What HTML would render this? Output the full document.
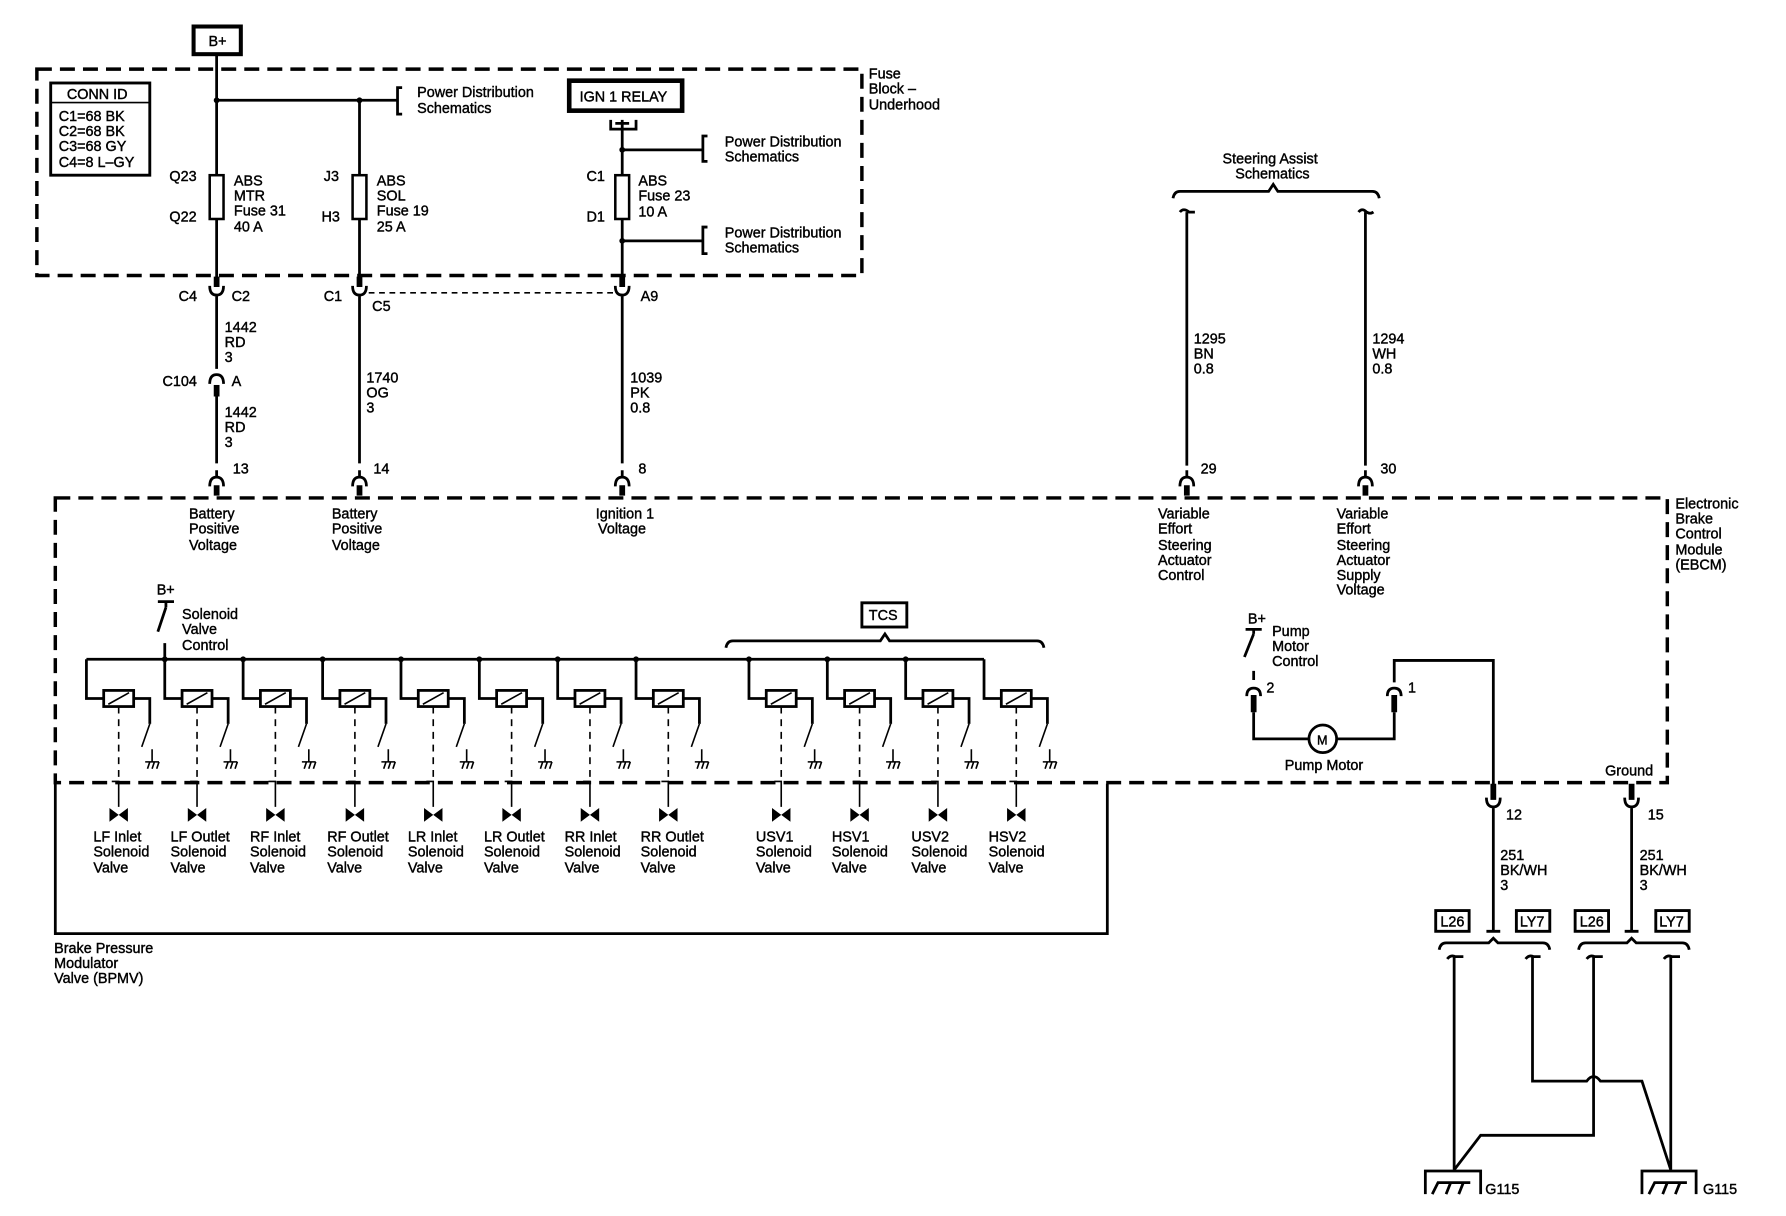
<!DOCTYPE html>
<html><head><meta charset="utf-8"><style>
html,body{margin:0;padding:0;background:#fff}
svg{display:block}
text{font-family:"Liberation Sans",sans-serif;font-size:12.5px;fill:#000;stroke:#000;stroke-width:0.35px;letter-spacing:0px}
.w{stroke:#000;stroke-width:2.4;fill:none}
.t{stroke:#000;stroke-width:1.4;fill:none}
.d{stroke:#000;stroke-width:3;fill:none;stroke-dasharray:13 7}
.b{stroke:#000;stroke-width:5;fill:none}
</style></head><body>
<svg width="1786" height="1216" viewBox="0 0 1550 1055" preserveAspectRatio="none" xmlns="http://www.w3.org/2000/svg">
<defs>
<g id="sol">
<path class="w" d="M0,0V34H15M41,34H55V56"/>
<rect x="15" y="27" width="26" height="14" fill="#fff" stroke="#000" stroke-width="2.4"/>
<path class="t" d="M19,39L37,29"/>
<path class="t" stroke-width="2" d="M55,56L48,76"/>
<path class="t" stroke-width="2" d="M57,78V89M51,89H63M53,95L55,89M57,95L59,89M61,95L63,89"/>
<path class="t" stroke-width="2" stroke-dasharray="6 5" d="M28,41V104"/>
<path class="t" stroke-width="2" d="M22,106H28V128"/>
<path d="M20,129L28,135L20,141ZM36,129L28,135L36,141Z" fill="#000"/>
</g>
<g id="cupd"><path class="b" d="M0,-12V-3"/><path class="w" d="M-6,-4Q-6,4 0,4Q6,4 6,-4M0,4V10"/></g>
<g id="cupu"><path class="w" d="M0,-10V-4M-6,4Q-6,-4 0,-4Q6,-4 6,4"/><path class="b" d="M0,3V12"/></g>
</defs>

<rect x="168" y="23" width="41" height="24" fill="none" stroke="#000" stroke-width="3.5"/>
<text x="181" y="40">B+</text>

<rect class="d" x="32" y="60" width="716" height="179"/>
<text x="754" y="68">Fuse</text><text x="754" y="81">Block –</text><text x="754" y="95">Underhood</text>
<rect x="44" y="72" width="86" height="80" fill="none" stroke="#000" stroke-width="2.5"/>
<path class="t" stroke-width="2" d="M44,89H130"/>
<text x="58" y="86">CONN ID</text>
<text x="51" y="105">C1=68 BK</text><text x="51" y="118">C2=68 BK</text><text x="51" y="131">C3=68 GY</text><text x="51" y="145">C4=8 L–GY</text>

<path class="w" d="M188,48V242M312,87V242M188,87H345"/>
<circle cx="188" cy="87" r="2.5"/><circle cx="312" cy="87" r="2.5"/>
<path class="w" d="M349,76H345V99H349"/>
<text x="362" y="84">Power Distribution</text><text x="362" y="98">Schematics</text>
<rect x="182" y="152" width="12" height="38" fill="#fff" stroke="#000" stroke-width="2.2"/>
<text x="147" y="157">Q23</text><text x="147" y="192">Q22</text>
<text x="203" y="161">ABS</text><text x="203" y="174">MTR</text><text x="203" y="187">Fuse 31</text><text x="203" y="201">40 A</text>
<rect x="306" y="152" width="12" height="38" fill="#fff" stroke="#000" stroke-width="2.2"/>
<text x="281" y="157">J3</text><text x="279" y="192">H3</text>
<text x="327" y="161">ABS</text><text x="327" y="174">SOL</text><text x="327" y="187">Fuse 19</text><text x="327" y="201">25 A</text>

<rect x="494" y="70" width="98" height="26" fill="none" stroke="#000" stroke-width="4"/>
<text x="503" y="88">IGN 1 RELAY</text>
<path class="w" d="M530,104V112H552V104M534,107H546"/>
<path class="w" d="M540,104V242M540,130H610M540,209H610"/>
<circle cx="540" cy="130" r="2.5"/><circle cx="540" cy="209" r="2.5"/>
<path class="w" d="M614,118H610V140H614M614,197H610V220H614"/>
<text x="629" y="127">Power Distribution</text><text x="629" y="140">Schematics</text>
<text x="629" y="206">Power Distribution</text><text x="629" y="219">Schematics</text>
<rect x="534" y="152" width="12" height="38" fill="#fff" stroke="#000" stroke-width="2.2"/>
<text x="509" y="157">C1</text><text x="509" y="192">D1</text>
<text x="554" y="161">ABS</text><text x="554" y="174">Fuse 23</text><text x="554" y="188">10 A</text>

<use href="#cupd" x="188" y="252"/><use href="#cupd" x="312" y="252"/><use href="#cupd" x="540" y="252"/>
<path class="t" stroke-width="2.5" stroke-dasharray="5 4" d="M320,254H533"/>
<text x="155" y="261">C4</text><text x="201" y="261">C2</text>
<text x="281" y="261">C1</text><text x="323" y="270">C5</text><text x="556" y="261">A9</text>
<path class="w" d="M188,262V320M188,338V402M312,262V402M540,262V402"/>
<path class="w" d="M182,333Q182,325 188,325Q194,325 194,333"/><path class="b" d="M188,334V344"/>
<text x="141" y="335">C104</text><text x="201" y="335">A</text>
<text x="195" y="288">1442</text><text x="195" y="301">RD</text><text x="195" y="314">3</text>
<text x="195" y="362">1442</text><text x="195" y="375">RD</text><text x="195" y="388">3</text>
<text x="318" y="332">1740</text><text x="318" y="345">OG</text><text x="318" y="358">3</text>
<text x="547" y="332">1039</text><text x="547" y="345">PK</text><text x="547" y="358">0.8</text>
<use href="#cupu" x="188" y="418"/><use href="#cupu" x="312" y="418"/><use href="#cupu" x="540" y="418"/>
<text x="202" y="411">13</text><text x="324" y="411">14</text><text x="554" y="411">8</text>

<text x="1061" y="142">Steering Assist</text><text x="1072" y="155">Schematics</text>
<path class="w" d="M1018,172Q1019,166 1024,166H1101L1105,160L1109,166H1191Q1196,166 1197,172"/>
<path class="w" d="M1030,184V404M1185,184V404M1024,184Q1027,180 1032,184H1037M1179,184Q1182,180 1186,184Q1189,186 1192,184"/>
<text x="1036" y="298">1295</text><text x="1036" y="311">BN</text><text x="1036" y="324">0.8</text>
<text x="1191" y="298">1294</text><text x="1191" y="311">WH</text><text x="1191" y="324">0.8</text>
<use href="#cupu" x="1030" y="418"/><use href="#cupu" x="1185" y="418"/>
<text x="1042" y="411">29</text><text x="1198" y="411">30</text>

<rect class="d" x="48" y="432" width="1399" height="247"/>
<text x="1454" y="441">Electronic</text><text x="1454" y="454">Brake</text><text x="1454" y="467">Control</text><text x="1454" y="481">Module</text><text x="1454" y="494">(EBCM)</text>
<text x="164" y="450">Battery</text><text x="164" y="463">Positive</text><text x="164" y="477">Voltage</text>
<text x="288" y="450">Battery</text><text x="288" y="463">Positive</text><text x="288" y="477">Voltage</text>
<text x="517" y="450">Ignition 1</text><text x="519" y="463">Voltage</text>
<text x="1005" y="450">Variable</text><text x="1005" y="463">Effort</text><text x="1005" y="477">Steering</text><text x="1005" y="490">Actuator</text><text x="1005" y="503">Control</text>
<text x="1160" y="450">Variable</text><text x="1160" y="463">Effort</text><text x="1160" y="477">Steering</text><text x="1160" y="490">Actuator</text><text x="1160" y="503">Supply</text><text x="1160" y="516">Voltage</text>

<text x="136" y="516">B+</text>
<path class="w" d="M137,522H151M144,522V527M144,527L137,548M143,558V572"/>
<text x="158" y="537">Solenoid</text><text x="158" y="550">Valve</text><text x="158" y="564">Control</text>
<path class="w" d="M75,572H854"/>
<g fill="#000"><circle cx="143" cy="572" r="2.5"/><circle cx="211" cy="572" r="2.5"/><circle cx="280" cy="572" r="2.5"/><circle cx="348" cy="572" r="2.5"/><circle cx="416" cy="572" r="2.5"/><circle cx="484" cy="572" r="2.5"/><circle cx="552" cy="572" r="2.5"/><circle cx="650" cy="572" r="2.5"/><circle cx="718" cy="572" r="2.5"/><circle cx="786" cy="572" r="2.5"/></g>
<use href="#sol" x="75" y="572"/><use href="#sol" x="143" y="572"/><use href="#sol" x="211" y="572"/><use href="#sol" x="280" y="572"/>
<use href="#sol" x="348" y="572"/><use href="#sol" x="416" y="572"/><use href="#sol" x="484" y="572"/><use href="#sol" x="552" y="572"/>
<use href="#sol" x="650" y="572"/><use href="#sol" x="718" y="572"/><use href="#sol" x="786" y="572"/><use href="#sol" x="854" y="572"/>
<rect x="748" y="523" width="39" height="21" fill="none" stroke="#000" stroke-width="2.5"/>
<text x="754" y="538">TCS</text>
<path class="w" d="M630,562Q631,556 636,556H764L768,550L772,556H900Q905,556 906,562"/>

<g>
<text x="81" y="730">LF Inlet</text><text x="81" y="743">Solenoid</text><text x="81" y="757">Valve</text>
<text x="148" y="730">LF Outlet</text><text x="148" y="743">Solenoid</text><text x="148" y="757">Valve</text>
<text x="217" y="730">RF Inlet</text><text x="217" y="743">Solenoid</text><text x="217" y="757">Valve</text>
<text x="284" y="730">RF Outlet</text><text x="284" y="743">Solenoid</text><text x="284" y="757">Valve</text>
<text x="354" y="730">LR Inlet</text><text x="354" y="743">Solenoid</text><text x="354" y="757">Valve</text>
<text x="420" y="730">LR Outlet</text><text x="420" y="743">Solenoid</text><text x="420" y="757">Valve</text>
<text x="490" y="730">RR Inlet</text><text x="490" y="743">Solenoid</text><text x="490" y="757">Valve</text>
<text x="556" y="730">RR Outlet</text><text x="556" y="743">Solenoid</text><text x="556" y="757">Valve</text>
<text x="656" y="730">USV1</text><text x="656" y="743">Solenoid</text><text x="656" y="757">Valve</text>
<text x="722" y="730">HSV1</text><text x="722" y="743">Solenoid</text><text x="722" y="757">Valve</text>
<text x="791" y="730">USV2</text><text x="791" y="743">Solenoid</text><text x="791" y="757">Valve</text>
<text x="858" y="730">HSV2</text><text x="858" y="743">Solenoid</text><text x="858" y="757">Valve</text>
</g>
<path class="w" stroke-width="3" d="M48,680V810H961V680"/>
<text x="47" y="827">Brake Pressure</text><text x="47" y="840">Modulator</text><text x="47" y="853">Valve (BPMV)</text>

<text x="1083" y="541">B+</text>
<path class="w" d="M1081,546H1095M1088,546V550M1088,550L1080,570M1088,582V590"/>
<text x="1104" y="552">Pump</text><text x="1104" y="565">Motor</text><text x="1104" y="578">Control</text>
<path class="w" d="M1082,604Q1082,597 1088,597Q1094,597 1094,604M1204,604Q1204,597 1210,597Q1216,597 1216,604"/>
<path class="b" d="M1088,603V618M1210,603V618"/>
<text x="1099" y="601">2</text><text x="1222" y="601">1</text>
<path class="w" d="M1088,618V641H1136M1160,641H1210V618M1210,592V573H1296V690"/>
<circle cx="1148" cy="641" r="12" fill="#fff" stroke="#000" stroke-width="2.4"/>
<text x="1143" y="646" style="font-size:11px">M</text>
<text x="1115" y="668">Pump Motor</text>
<text x="1393" y="673">Ground</text>
<path class="b" d="M1296,680V694M1416,680V694"/>
<path class="w" d="M1290,692Q1290,700 1296,700Q1302,700 1302,692M1410,692Q1410,700 1416,700Q1422,700 1422,692M1296,700V808M1416,700V808"/>
<text x="1307" y="711">12</text><text x="1430" y="711">15</text>
<text x="1302" y="746">251</text><text x="1302" y="759">BK/WH</text><text x="1302" y="772">3</text>
<text x="1423" y="746">251</text><text x="1423" y="759">BK/WH</text><text x="1423" y="772">3</text>
<g fill="none" stroke="#000" stroke-width="2.5">
<rect x="1246" y="790" width="29" height="18"/><rect x="1316" y="790" width="29" height="18"/>
<rect x="1367" y="790" width="29" height="18"/><rect x="1437" y="790" width="29" height="18"/>
</g>
<text x="1250" y="804">L26</text><text x="1319" y="804">LY7</text><text x="1371" y="804">L26</text><text x="1440" y="804">LY7</text>
<path class="w" stroke-width="1.8" d="M1290,808H1302M1410,808H1422"/>
<path class="w" d="M1249,824Q1250,818 1255,818H1292L1296,814L1300,818H1339Q1344,818 1345,824M1370,824Q1371,818 1376,818H1412L1416,814L1420,818H1460Q1465,818 1466,824"/>
<path class="w" d="M1256,832Q1259,828 1263,830H1270M1324,832Q1327,828 1331,830H1337M1377,832Q1380,828 1384,830H1391M1444,832Q1447,828 1451,830H1458"/>
<path class="w" d="M1262,830V1015M1450,830V1015M1330,830V938H1377Q1383,930 1389,938H1425L1450,1015M1383,830V985H1285L1262,1015"/>
<path class="w" d="M1237,1036V1016H1285V1036M1425,1036V1016H1472V1036"/>
<path class="w" stroke-width="2" d="M1243,1036L1248,1026H1276M1255,1036L1259,1026M1266,1036L1270,1026M1431,1036L1436,1026H1464M1443,1036L1447,1026M1454,1036L1458,1026"/>
<text x="1289" y="1036">G115</text><text x="1478" y="1036">G115</text>
</svg>
</body></html>
